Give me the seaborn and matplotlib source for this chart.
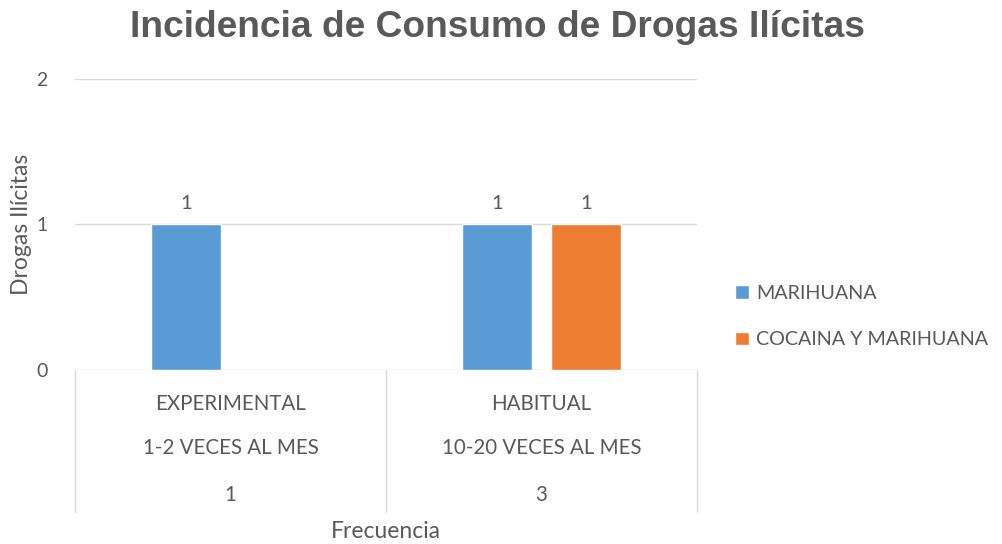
import pandas as pd
import matplotlib
matplotlib.use("Agg")
import matplotlib.pyplot as plt
import matplotlib.transforms as mtransforms
from matplotlib.patches import Patch
import seaborn as sns

# datos del grafico
categorias = ["EXPERIMENTAL", "HABITUAL"]
frecuencia_txt = ["1-2 VECES AL MES", "10-20 VECES AL MES"]
frecuencia_num = ["1", "3"]
series = ["MARIHUANA", "COCAINA Y MARIHUANA"]
colores = ["#5B9BD5", "#ED7D31"]

cat_col = ["EXPERIMENTAL", "HABITUAL", "HABITUAL"]
serie_col = ["MARIHUANA", "MARIHUANA", "COCAINA Y MARIHUANA"]
valores = [1, 1, 1]

df = pd.DataFrame({"cat": cat_col, "serie": serie_col, "valor": valores})

sns.set_theme(style="white")
plt.rcParams["font.family"] = ["Lato", "DejaVu Sans"]
gris = "#595959"

fig = plt.figure(figsize=(10.02, 5.44), dpi=100)
ax = fig.add_axes([0.0749, 0.3199, 0.6207, 0.5349])

sns.barplot(data=df, x="cat", y="valor", hue="serie", order=categorias,
            hue_order=series, palette=colores, width=0.57, gap=0.21,
            saturation=1, legend=False, ax=ax)

ax.set_xlim(-0.5, 1.5)
ax.set_ylim(0, 2)
ax.set_yticks([0, 1, 2])
ax.grid(axis="y", color="#D9D9D9", linewidth=1)
ax.set_axisbelow(True)
for s in ax.spines.values():
    s.set_visible(False)
ax.tick_params(axis="y", length=0, labelsize=14, labelcolor=gris, pad=20)
ax.set_ylabel("Drogas Ilícitas", fontsize=16.5, color=gris, labelpad=3)

for cont in ax.containers:
    ax.bar_label(cont, fmt="%.0f", padding=9, fontsize=14.5, color=gris)

# eje de categorias multinivel
ax.set_xticks([])
ax.set_xlabel("")
trans = mtransforms.blended_transform_factory(ax.transData, ax.transAxes)
ax_h = 291.0
for i, cat in enumerate(categorias):
    ax.text(i, -34 / ax_h, cat, transform=trans, ha="center", va="center",
            fontsize=14.8, color=gris)
    ax.text(i, -78 / ax_h, frecuencia_txt[i], transform=trans, ha="center",
            va="center", fontsize=14.8, color=gris)
    ax.text(i, -125 / ax_h, frecuencia_num[i], transform=trans, ha="center",
            va="center", fontsize=14.8, color=gris)
for xf in [0, 0.5, 1]:
    ax.plot([xf, xf], [0, -142 / ax_h], transform=ax.transAxes,
            color="#D9D9D9", linewidth=1, clip_on=False)
ax.text(0.5, -162 / ax_h, "Frecuencia", transform=ax.transAxes, ha="center",
        va="center", fontsize=16.5, color=gris)

fig.text(0.496, 0.95, "Incidencia de Consumo de Drogas Ilícitas",
         ha="center", va="center", fontsize=26.7, fontweight="bold",
         color=gris, family=["Liberation Sans", "DejaVu Sans"])

handles = [Patch(facecolor=c, label=s) for c, s in zip(colores, series)]
fig.legend(handles=handles, loc="center left", bbox_to_anchor=(0.716, 0.418),
           frameon=False, fontsize=14.2, labelcolor=gris, handlelength=0.7,
           handleheight=0.7, handletextpad=0.35, labelspacing=1.5)

fig.savefig("out.png", dpi=100)
